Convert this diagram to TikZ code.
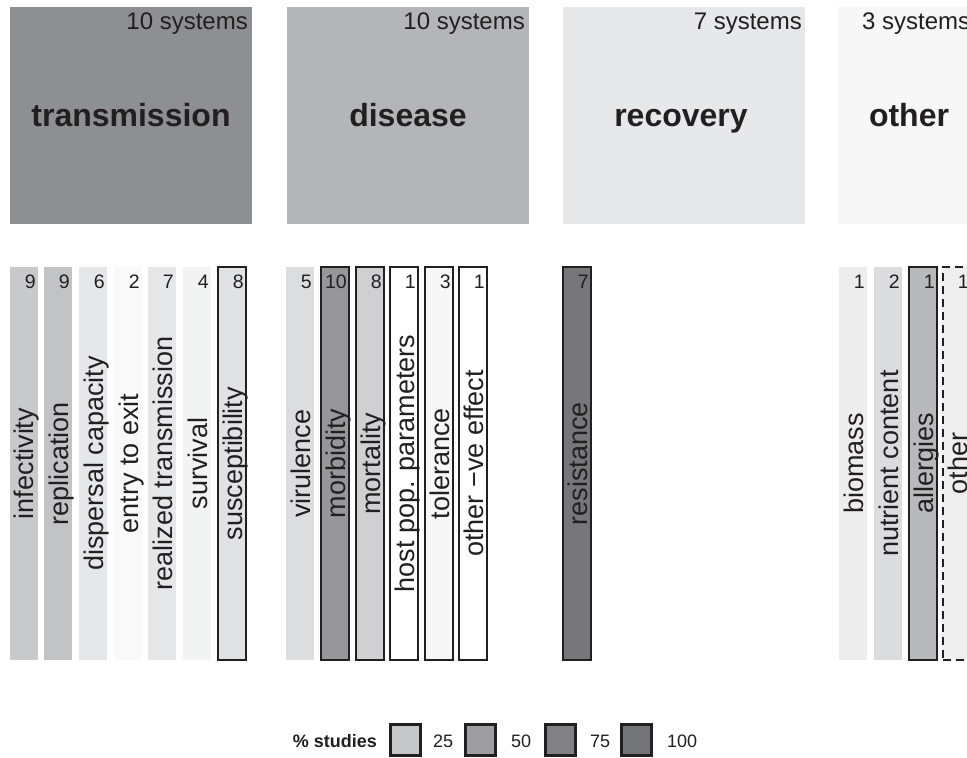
\documentclass[tikz,border=0pt]{standalone}
\usepackage{fontspec}
\setmainfont{Liberation Sans}
\usetikzlibrary{calc}
\definecolor{ink}{HTML}{231F20}
\definecolor{cTrans}{HTML}{8E8F93}
\definecolor{cDis}{HTML}{B4B5B8}
\definecolor{cRec}{HTML}{E7E8E9}
\definecolor{cOth}{HTML}{F7F7F7}
\definecolor{cLegA}{HTML}{C6C7C9}
\definecolor{cLegB}{HTML}{9D9EA1}
\definecolor{cLegC}{HTML}{818285}
\definecolor{cLegD}{HTML}{737477}
\definecolor{fB1}{HTML}{C8C9CB}
\definecolor{fB2}{HTML}{C2C3C5}
\definecolor{fB3}{HTML}{E6E7E8}
\definecolor{fB4}{HTML}{F9F9F9}
\definecolor{fB5}{HTML}{E6E7E8}
\definecolor{fB6}{HTML}{F2F3F3}
\definecolor{fB7}{HTML}{E1E2E4}
\definecolor{fD1}{HTML}{DCDDDF}
\definecolor{fD2}{HTML}{96979A}
\definecolor{fD3}{HTML}{CFD0D2}
\definecolor{fD5}{HTML}{F7F7F7}
\definecolor{fR1}{HTML}{76777A}
\definecolor{fO1}{HTML}{EDEDEE}
\definecolor{fO2}{HTML}{DBDCDE}
\definecolor{fO3}{HTML}{B8B9BC}
\definecolor{fO4}{HTML}{EEEEEF}
\tikzset{
  bigbox/.style={rectangle, draw=none, inner sep=0pt, outer sep=0pt, minimum width=242pt, minimum height=217pt},
  bigtitle/.style={inner sep=0pt, text=ink, font=\fontsize{32}{38}\selectfont\bfseries},
  systems/.style={inner sep=0pt, text=ink, font=\fontsize{24}{28}\selectfont},
  barbox/.style={rectangle, draw=none, inner sep=0pt, outer sep=0pt, minimum width=28pt, minimum height=393pt},
  framed/.style={draw=ink, line width=2pt},
  dashframe/.style={draw=ink, line width=2pt, dash pattern=on 8pt off 5pt},
  barnum/.style={inner sep=0pt, text=ink, font=\fontsize{19.5}{23}\selectfont},
  barlab/.style={inner sep=0pt, text=ink, rotate=90, font=\fontsize{27}{32}\selectfont},
  legbox/.style={rectangle, draw=ink, line width=3pt, minimum width=30pt, minimum height=31pt, inner sep=0pt},
  legtext/.style={inner sep=0pt, text=ink, font=\fontsize{18}{22}\selectfont},
}
\newcommand\mkbar[6]{%
  \node[barbox, fill=#3, #4] (#1) at (#2+14,463.5) {};
  \node[barnum, anchor=north east] (#1n) at ($(#1.north east)+(-2,8)$) {#5};
  \node[barlab, anchor=base] (#1l) at ($(#1.east)+(-4,0)$) {#6};
}
\begin{document}
\begin{tikzpicture}[x=1pt,y=-1pt]
\clip (0,0) rectangle (967,758);
\fill[white] (0,0) rectangle (967,758);

% category boxes
\node[bigbox, fill=cTrans] (bt) at (131,115.5) {};
\node[bigbox, fill=cDis] (bd) at (408,115.5) {};
\node[bigbox, fill=cRec] (br) at (684,115.5) {};
\node[bigbox, fill=cOth] (bo) at (959,115.5) {};

\node[bigtitle, anchor=base] (tt) at (131,126) {transmission};
\node[bigtitle, anchor=base] (td) at (408,126) {disease};
\node[bigtitle, anchor=base] (tr) at (681,126) {recovery};
\node[bigtitle, anchor=base] (to) at (909,126) {other};

\node[systems, anchor=base east] (st) at (248,29) {10 systems};
\node[systems, anchor=base east] (sd) at (525,29) {10 systems};
\node[systems, anchor=base east] (sr) at (802,29) {7 systems};
\node[systems, anchor=base west] (so) at (862,29) {3 systems};

% transmission bars
\mkbar{b1}{10}{fB1}{}{9}{infectivity}
\mkbar{b2}{44}{fB2}{}{9}{replication}
\mkbar{b3}{79}{fB3}{}{6}{dispersal capacity}
\mkbar{b4}{114}{fB4}{}{2}{entry to exit}
\mkbar{b5}{148}{fB5}{}{7}{realized transmission}
\mkbar{b6}{183}{fB6}{}{4}{survival}
\mkbar{b7}{218}{fB7}{framed}{8}{susceptibility}

% disease bars
\mkbar{d1}{286}{fD1}{}{5}{virulence}
\mkbar{d2}{321}{fD2}{framed}{10}{morbidity}
\mkbar{d3}{356}{fD3}{framed}{8}{mortality}
\mkbar{d4}{390}{white}{framed}{1}{host pop. parameters}
\mkbar{d5}{425}{fD5}{framed}{3}{tolerance}
\mkbar{d6}{459}{white}{framed}{1}{other −ve effect}

% recovery bar
\mkbar{r1}{563}{fR1}{framed}{7}{resistance}

% other bars
\mkbar{o1}{839}{fO1}{}{1}{biomass}
\mkbar{o2}{874}{fO2}{}{2}{nutrient content}
\mkbar{o3}{909}{fO3}{framed}{1}{allergies}
\mkbar{o4}{943}{fO4}{dashframe}{1}{other}

% legend
\node[legtext, anchor=base east, font=\fontsize{18}{22}\selectfont\bfseries] (lt) at (377,747) {\% studies};
\node[legbox, fill=cLegA] (l1) at (405,740) {};
\node[legbox, fill=cLegB] (l2) at (480,740) {};
\node[legbox, fill=cLegC] (l3) at (560,740) {};
\node[legbox, fill=cLegD] (l4) at (636,740) {};
\node[legtext, anchor=base west] (n1) at (433,747) {25};
\node[legtext, anchor=base west] (n2) at (511,747) {50};
\node[legtext, anchor=base west] (n3) at (590,747) {75};
\node[legtext, anchor=base west] (n4) at (667,747) {100};
\end{tikzpicture}
\end{document}
